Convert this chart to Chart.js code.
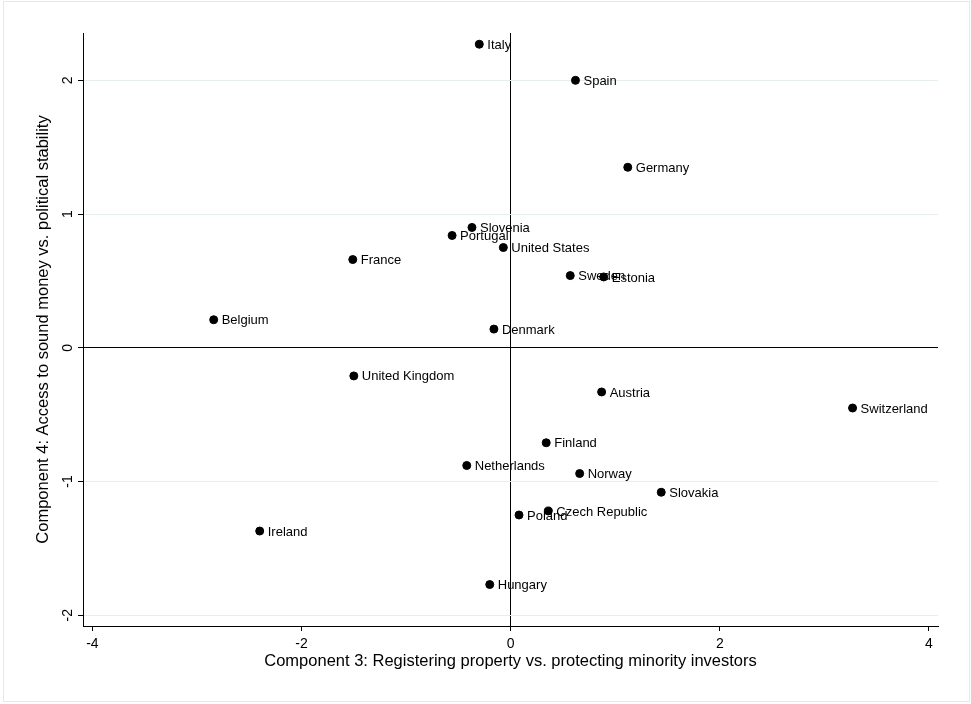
<!DOCTYPE html>
<html>
<head>
<meta charset="utf-8">
<script src="https://cdn.jsdelivr.net/npm/chart.js@4/dist/chart.umd.min.js"></script>
<style>
  html, body { margin: 0; padding: 0; background: #fff; }
  canvas { display: block; }
</style>
</head>
<body>
<canvas id="pca_chart" width="971" height="704"></canvas>
<script>
  // country scores on components 3 and 4
  const countries = ['Italy', 'Spain', 'Germany', 'Slovenia', 'Portugal', 'United States', 'France',
    'Sweden', 'Estonia', 'Belgium', 'Denmark', 'United Kingdom', 'Austria', 'Switzerland',
    'Finland', 'Netherlands', 'Norway', 'Slovakia', 'Czech Republic', 'Poland', 'Ireland', 'Hungary'];
  const comp3 = [-0.30, 0.62, 1.12, -0.37, -0.56, -0.07, -1.51,
    0.57, 0.89, -2.84, -0.16, -1.50, 0.87, 3.27,
    0.34, -0.42, 0.66, 1.44, 0.36, 0.08, -2.40, -0.20];
  const comp4 = [2.27, 2.00, 1.35, 0.90, 0.84, 0.75, 0.66,
    0.54, 0.53, 0.21, 0.14, -0.21, -0.33, -0.45,
    -0.71, -0.88, -0.94, -1.08, -1.22, -1.25, -1.37, -1.77];
  const xTicks = [-4, -2, 0, 2, 4];
  const yTicks = [-2, -1, 0, 1, 2];

  const FONT = "'Liberation Sans', Arial, sans-serif";
  const GRID = '#e6eef0';

  const points = comp3.map((x, i) => ({ x, y: comp4[i] }));

  // white page + faint outer frame
  const framePlugin = {
    id: 'frame',
    beforeDraw(chart){
      const c = chart.ctx;
      c.save();
      c.fillStyle = '#fff';
      c.fillRect(0, 0, chart.width, chart.height);
      c.strokeStyle = '#e8e8e8';
      c.lineWidth = 1;
      c.strokeRect(3.5, 1.5, 966, 700);
      c.restore();
    }
  };

  // country names next to the markers, plus rotated y tick labels
  const labelPlugin = {
    id: 'pointLabels',
    afterDatasetsDraw(chart){
      const c = chart.ctx;
      const meta = chart.getDatasetMeta(0);
      c.save();
      c.font = '13px ' + FONT;
      c.fillStyle = '#000';
      c.textAlign = 'left';
      c.textBaseline = 'middle';
      meta.data.forEach((pt, i) => {
        c.fillText(countries[i], pt.x + 8, pt.y + 1);
      });

      const ys = chart.scales.y;
      c.font = '14px ' + FONT;
      ys.ticks.forEach(t => {
        c.save();
        c.translate(72, ys.getPixelForValue(t.value));
        c.rotate(-Math.PI / 2);
        c.textAlign = 'center';
        c.textBaseline = 'alphabetic';
        c.fillText(String(t.value), 0, 0);
        c.restore();
      });
      c.restore();
    }
  };

  new Chart(document.getElementById('pca_chart'), {
    type: 'scatter',
    data: {
      datasets: [{
        data: points,
        backgroundColor: '#000',
        borderColor: '#000',
        pointRadius: 4,
        pointHoverRadius: 4
      }]
    },
    options: {
      responsive: false,
      animation: false,
      events: [],
      layout: { padding: { top: 33, right: 33, left: 0, bottom: 0 } },
      plugins: { legend: { display: false }, tooltip: { enabled: false } },
      scales: {
        x: {
          type: 'linear',
          min: -4.09,
          max: 4.087,
          afterBuildTicks: s => { s.ticks = xTicks.map(v => ({ value: v })); },
          afterFit: s => { s.height = 78; },
          border: { display: true, color: '#000', width: 1 },
          grid: {
            color: ctx => (ctx.tick && ctx.tick.value === 0) ? '#000' : 'rgba(0,0,0,0)',
            tickColor: '#000',
            tickLength: 5,
            lineWidth: 1
          },
          ticks: {
            color: '#000',
            font: { family: FONT, size: 14 },
            padding: 5,
            maxRotation: 0,
            callback: v => String(v)
          },
          title: {
            display: true,
            text: 'Component 3: Registering property vs. protecting minority investors',
            color: '#000',
            font: { family: FONT, size: 16.5 },
            padding: { top: 0, bottom: 33 }
          }
        },
        y: {
          type: 'linear',
          min: -2.08,
          max: 2.354,
          afterBuildTicks: s => { s.ticks = yTicks.map(v => ({ value: v })); },
          afterFit: s => { s.width = 83; },
          border: { display: true, color: '#000', width: 1 },
          grid: {
            color: ctx => (ctx.tick && ctx.tick.value === 0) ? '#000' : GRID,
            tickColor: '#000',
            tickLength: 5,
            lineWidth: 1
          },
          ticks: { display: false },
          title: {
            display: true,
            text: 'Component 4: Access to sound money vs. political stability',
            color: '#000',
            font: { family: FONT, size: 16.5 },
            padding: { top: 34, bottom: 0 }
          }
        }
      }
    },
    plugins: [framePlugin, labelPlugin]
  });
</script>
</body>
</html>
